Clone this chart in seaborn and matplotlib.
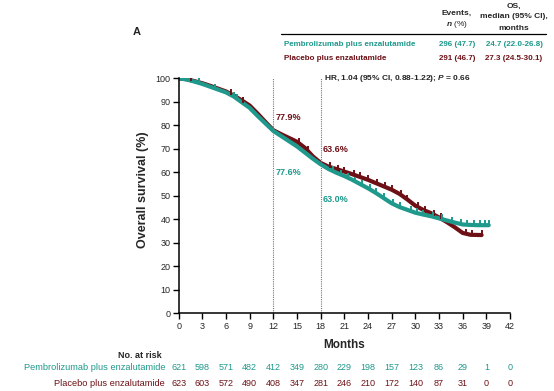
import numpy as np
import pandas as pd
import matplotlib
matplotlib.use("Agg")
import matplotlib.pyplot as plt
import matplotlib.transforms as mtransforms
import seaborn as sns

# ---------------- data ----------------
arms = ["Pembrolizumab plus enzalutamide", "Placebo plus enzalutamide"]
events = ["296 (47.7)", "291 (46.7)"]
medians = ["24.7 (22.0-26.8)", "27.3 (24.5-30.1)"]

pembro_t = [0, 1, 2, 3, 4, 5, 6, 7, 8, 9, 10, 11, 12, 13, 14, 15, 16, 17, 18, 19, 20,
            21, 22, 23, 24, 25, 26, 27, 28, 29, 30, 31, 32, 33, 34, 35, 36, 37, 38, 39.3]
pembro_s = [100, 99.5, 98.6, 97.6, 96.4, 95.2, 94.0, 92.2, 89.8, 87.4, 84.0, 80.8, 77.6,
            75.4, 73.2, 71.0, 68.4, 65.8, 63.4, 61.4, 59.8, 58.4, 56.8, 55.0, 53.2, 51.2,
            49.0, 46.8, 45.2, 44.0, 42.8, 42.0, 41.3, 40.4, 39.5, 38.6, 37.8, 37.6, 37.5, 37.5]
placebo_t = [0, 1, 2, 3, 4, 5, 6, 7, 8, 9, 10, 11, 12, 13, 14, 15, 16, 17, 18, 19, 20,
             21, 22, 23, 24, 25, 26, 27, 28, 29, 30, 31, 32, 33, 34, 35, 36, 37, 38.4]
placebo_s = [100, 99.6, 98.8, 97.9, 96.8, 95.6, 94.4, 92.6, 90.6, 88.4, 85.0, 81.4, 77.9,
             76.2, 74.6, 73.0, 70.4, 66.8, 64.0, 62.4, 61.4, 60.3, 59.2, 58.0, 56.8, 55.4,
             54.0, 52.6, 50.8, 48.4, 45.8, 44.0, 42.6, 40.8, 38.8, 36.6, 34.2, 33.4, 33.3]
pembro_cens = [0.6, 1.3, 2.6, 4.6, 7.0, 7.4, 19.6, 20.6, 21.4, 22.4, 23.2, 24.2, 25.0,
               26.0, 27.2, 28.0, 29.4, 30.2, 31.0, 32.2, 33.4, 34.6, 35.8, 36.6, 37.4,
               38.2, 38.8, 39.3]
placebo_cens = [1.6, 6.6, 8.2, 15.2, 16.4, 19.2, 20.2, 21.0, 22.2, 23.0, 24.0, 25.2,
                26.2, 27.0, 28.2, 29.0, 30.4, 31.2, 32.4, 33.2, 36.4, 37.2, 38.4]

landmarks = [12, 18]
pembro_lm = ["77.6%", "63.0%"]
placebo_lm = ["77.9%", "63.6%"]

risk_times = list(range(0, 43, 3))
pembro_risk = [621, 598, 571, 482, 412, 349, 280, 229, 198, 157, 123, 86, 29, 1, 0]
placebo_risk = [623, 603, 572, 490, 408, 347, 281, 246, 210, 172, 140, 87, 31, 0, 0]

hr_text = "HR, 1.04 (95% CI, 0.88-1.22); $\\mathit{P}$ = 0.66"

# ---------------- style ----------------
sns.set_theme(style="white")
plt.rcParams["font.family"] = ["Liberation Sans", "DejaVu Sans"]
plt.rcParams["mathtext.fontset"] = "custom"
plt.rcParams["mathtext.rm"] = "Liberation Sans:bold"
plt.rcParams["mathtext.it"] = "Liberation Sans:italic:bold"
plt.rcParams["mathtext.bf"] = "Liberation Sans:bold"

TEAL = "#1f998c"
MAROON = "#6e1117"
W, H = 554, 391
fig = plt.figure(figsize=(W / 100, H / 100), dpi=100)

def fx(x):
    return x / W

def fy(y):
    return 1 - y / H

ax_l, ax_r, ax_t, ax_b = 178.7, 510, 78.3, 313.3
ax = fig.add_axes([fx(ax_l), fy(ax_b), fx(ax_r - ax_l), (ax_b - ax_t) / H])

df = pd.concat([
    pd.DataFrame({"t": pembro_t, "s": pembro_s, "arm": arms[0]}),
    pd.DataFrame({"t": placebo_t, "s": placebo_s, "arm": arms[1]}),
])
# draw placebo first so pembrolizumab sits on top
sns.lineplot(data=df[df.arm == arms[1]], x="t", y="s", color=MAROON, lw=3.0, ax=ax,
             estimator=None, sort=True)
sns.lineplot(data=df[df.arm == arms[0]], x="t", y="s", color=TEAL, lw=3.0, ax=ax,
             estimator=None, sort=True)

def at(times, surv, q):
    return float(np.interp(q, times, surv))

ax.plot(placebo_cens, [at(placebo_t, placebo_s, c) + 0.8 for c in placebo_cens],
        ls="none", marker="|", ms=5, mew=1.4, color=MAROON)
ax.plot(pembro_cens, [at(pembro_t, pembro_s, c) + 0.8 for c in pembro_cens],
        ls="none", marker="|", ms=5, mew=1.4, color=TEAL)

for lm in landmarks:
    ax.plot([lm, lm], [0, 100], ls=(0, (1, 1)), color="#777777", lw=0.8)

# landmark labels
ax.text(12.25, 83.5, placebo_lm[0], color=MAROON, fontsize=6.5, fontweight="bold", va="center")
ax.text(12.25, 60.1, pembro_lm[0], color=TEAL, fontsize=6.5, fontweight="bold", va="center")
ax.text(18.25, 69.9, placebo_lm[1], color=MAROON, fontsize=6.5, fontweight="bold", va="center")
ax.text(18.25, 48.6, pembro_lm[1], color=TEAL, fontsize=6.5, fontweight="bold", va="center")

ax.set_xlim(0, 42)
ax.set_ylim(0, 100)
ax.set_xticks(risk_times)
ax.set_yticks(range(0, 101, 10))
ax.tick_params(axis="both", direction="out", length=4, width=1, color="black",
               labelsize=6.5, pad=2, bottom=True, left=True)
for sp in ["top", "right"]:
    ax.spines[sp].set_visible(False)
for sp in ["left", "bottom"]:
    ax.spines[sp].set_color("black")
    ax.spines[sp].set_linewidth(1.1)
ax.set_xlabel("")
ax.set_ylabel("")

fig.text(fx(344), fy(345), "Months", ha="center", va="center", fontsize=8.5, fontweight="bold")
fig.text(fx(143), fy(190), "Overall survival (%)", ha="center", va="center", rotation=90,
         fontsize=9, fontweight="bold")

# HR
fig.text(fx(324), fy(78), hr_text, ha="left", va="center", fontsize=6, fontweight="bold")

# panel letter
fig.text(fx(137), fy(32), "A", ha="center", va="center", fontsize=8, fontweight="bold")

# legend table
fig.text(fx(457), fy(13), "Events,", ha="center", va="center", fontsize=6, fontweight="bold")
fig.text(fx(457), fy(24), "$\\mathit{n}$ (%)", ha="center", va="center", fontsize=6)
fig.text(fx(514), fy(6), "OS,", ha="center", va="center", fontsize=6, fontweight="bold")
fig.text(fx(514), fy(17), "median (95% CI),", ha="center", va="center", fontsize=6, fontweight="bold")
fig.text(fx(514), fy(28), "months", ha="center", va="center", fontsize=6, fontweight="bold")
fig.add_artist(plt.Line2D([fx(281), fx(546)], [fy(34), fy(34)], color="black", lw=0.9))
for i, (arm, col) in enumerate(zip(arms, [TEAL, MAROON])):
    yy = fy(44.3 + 14 * i)
    fig.text(fx(284), yy, arm, ha="left", va="center", fontsize=5.8, fontweight="bold", color=col)
    fig.text(fx(457), yy, events[i], ha="center", va="center", fontsize=5.8, fontweight="bold", color=col)
    fig.text(fx(514), yy, medians[i], ha="center", va="center", fontsize=5.8, fontweight="bold", color=col)

# risk table
trans = mtransforms.blended_transform_factory(ax.transData, fig.transFigure)
fig.text(fx(162), fy(355), "No. at risk", ha="right", va="center", fontsize=6.5, fontweight="bold")
for row, (arm, col, vals) in enumerate(zip(arms, [TEAL, MAROON], [pembro_risk, placebo_risk])):
    yy = fy(367 + 16 * row)
    fig.text(fx(165), yy, arm, ha="right", va="center", fontsize=6.7, color=col)
    for t, v in zip(risk_times, vals):
        ax.text(t, yy, str(v), transform=trans, ha="center", va="center", fontsize=6.5,
                color=col, clip_on=False)

fig.savefig("out.png", dpi=100)
